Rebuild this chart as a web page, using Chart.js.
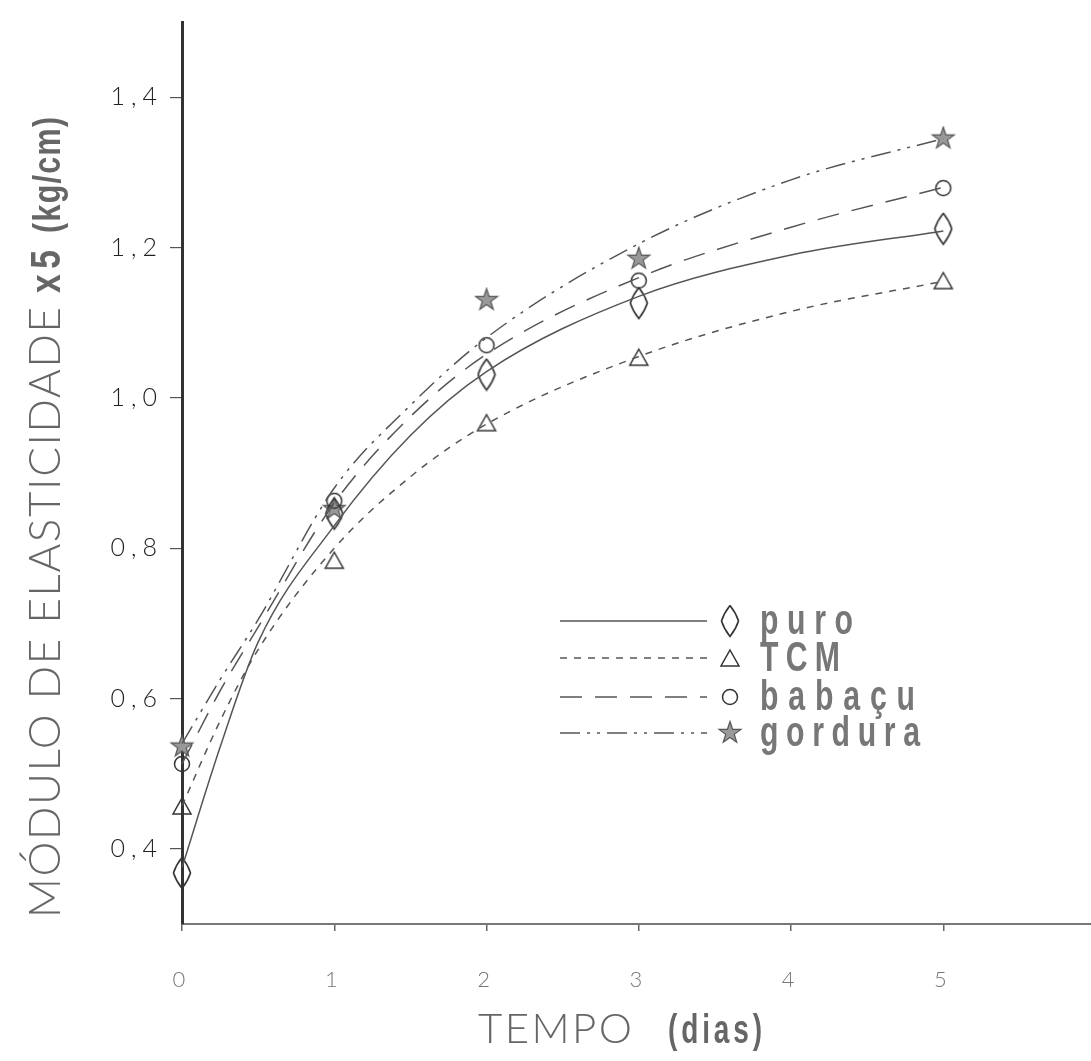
<!DOCTYPE html>
<html>
<head>
<meta charset="utf-8">
<script src="https://cdn.jsdelivr.net/npm/chart.js@4"></script>
<style>
  body { margin: 0; background: #fff; }
  #wrap { width: 1091px; height: 1061px; }
</style>
</head>
<body>
<div id="wrap"><canvas id="chart"></canvas></div>
<script>
// measured points (days 0,1,2,3,5)
const days = [0, 1, 2, 3, 5];
const puro = [0.368, 0.846, 1.031, 1.126, 1.225];
const tcm = [0.457, 0.784, 0.967, 1.054, 1.156];
const babacu = [0.513, 0.863, 1.070, 1.156, 1.279];
const gordura = [0.536, 0.852, 1.130, 1.185, 1.345];

// fitted curves
const curveDays = [0, 0.25, 0.5, 1, 1.5, 2, 3, 4, 5];
const puroCurve = [0.375, 0.535, 0.675, 0.83, 0.95, 1.035, 1.135, 1.19, 1.222];
const tcmCurve = [0.457, 0.57, 0.665, 0.80, 0.895, 0.965, 1.055, 1.115, 1.155];
const babacuCurve = [0.513, 0.61, 0.695, 0.86, 0.975, 1.058, 1.16, 1.227, 1.28];
const gorduraCurve = [0.54, 0.625, 0.705, 0.88, 0.99, 1.08, 1.205, 1.29, 1.345];

const seriesNames = ["puro", "TCM", "babaçu", "gordura"];
const yTicks = [0.4, 0.6, 0.8, 1.0, 1.2, 1.4];
const xTicks = [0, 1, 2, 3, 4, 5];

const lineColor = "#555";

// marker images
function makeDiamond() {
  const c = document.createElement("canvas");
  c.width = 20; c.height = 34;
  const g = c.getContext("2d");
  g.strokeStyle = "#333"; g.lineWidth = 1.6;
  g.beginPath();
  g.moveTo(10, 1.5); g.quadraticCurveTo(16, 9, 18.5, 17);
  g.quadraticCurveTo(16, 25, 10, 32.5); g.quadraticCurveTo(4, 25, 1.5, 17);
  g.quadraticCurveTo(4, 9, 10, 1.5);
  g.stroke();
  return c;
}
function makeStar() {
  const c = document.createElement("canvas");
  c.width = 26; c.height = 26;
  const g = c.getContext("2d");
  g.fillStyle = "#999"; g.strokeStyle = "#555"; g.lineWidth = 1.2;
  g.beginPath();
  for (let i = 0; i < 10; i++) {
    const r = i % 2 ? 4.5 : 11.5;
    const a = -Math.PI / 2 + i * Math.PI / 5;
    const px = 13 + r * Math.cos(a), py = 13 + r * Math.sin(a);
    i ? g.lineTo(px, py) : g.moveTo(px, py);
  }
  g.closePath(); g.fill(); g.stroke();
  return c;
}
function makeTriangle() {
  const c = document.createElement("canvas");
  c.width = 22; c.height = 20;
  const g = c.getContext("2d");
  g.strokeStyle = "#333"; g.lineWidth = 1.5;
  g.beginPath(); g.moveTo(11, 2); g.lineTo(20, 18); g.lineTo(2, 18); g.closePath();
  g.stroke();
  return c;
}
function makeCircle() {
  const c = document.createElement("canvas");
  c.width = 20; c.height = 20;
  const g = c.getContext("2d");
  g.strokeStyle = "#333"; g.lineWidth = 1.5;
  g.beginPath(); g.arc(10, 10, 7.5, 0, Math.PI * 2); g.stroke();
  return c;
}
const markers = [makeDiamond(), makeTriangle(), makeCircle(), makeStar()];
const dashes = [[], [7, 7], [22, 13], [20, 7, 3, 7, 3, 7]];

function pts(xs, ys) { return xs.map((x, i) => ({ x: x, y: ys[i] })); }

const curveSets = [puroCurve, tcmCurve, babacuCurve, gorduraCurve].map((d, i) => ({
  label: seriesNames[i] + " curva",
  data: pts(curveDays, d),
  showLine: true,
  borderColor: lineColor,
  borderWidth: 1.5,
  borderDash: dashes[i],
  pointRadius: 0,
  cubicInterpolationMode: "monotone",
  clip: false
}));
const pointSets = [puro, tcm, babacu, gordura].map((d, i) => ({
  label: seriesNames[i],
  data: pts(days, d),
  showLine: false,
  pointStyle: markers[i],
  pointRadius: 10,
  clip: false
}));

// draws text stretched to a given width (condensed + letter spaced)
function drawFitted(ctx, text, x, y, font, width, squeeze) {
  ctx.save();
  ctx.font = font;
  ctx.letterSpacing = "0px";
  const w = ctx.measureText(text).width;
  const sp = (width / squeeze - w) / Math.max(1, text.length - 1);
  ctx.letterSpacing = sp + "px";
  ctx.translate(x, y);
  ctx.scale(squeeze, 1);
  ctx.textAlign = "left";
  ctx.textBaseline = "alphabetic";
  ctx.fillText(text, 0, 0);
  ctx.restore();
}

const boldFont = '"Liberation Sans Narrow", "Liberation Sans", sans-serif';

const decor = {
  id: "decor",
  beforeDraw(chart) {
    chart.ctx.letterSpacing = "6px";
  },
  afterDraw(chart) {
    const ctx = chart.ctx;
    ctx.save();
    ctx.letterSpacing = "0px";

    // y axis title
    ctx.save();
    ctx.translate(60, 918);
    ctx.rotate(-Math.PI / 2);
    ctx.fillStyle = "#666";
    drawFitted(ctx, "MÓDULO DE ELASTICIDADE", 0, 0, '300 44px "Lato"', 611, 1);
    drawFitted(ctx, "x5", 625, 0, "bold 42px " + boldFont, 43, 0.8);
    drawFitted(ctx, "(kg/cm)", 685, 0, "bold 38px " + boldFont, 116, 0.8);
    ctx.restore();

    // x axis title
    ctx.fillStyle = "#666";
    drawFitted(ctx, "TEMPO", 478, 1043, '300 42px "Lato"', 154, 1);
    drawFitted(ctx, "(dias)", 668, 1043, "bold 40px " + boldFont, 94, 0.7);

    // legend
    const rows = [621, 658, 697, 733];
    const tw = [93, 80, 155, 160];
    chart.data.datasets.slice(0, 4).forEach((ds, i) => {
      const y = rows[i];
      ctx.save();
      ctx.strokeStyle = lineColor;
      ctx.lineWidth = 1.5;
      ctx.setLineDash(ds.borderDash);
      ctx.beginPath(); ctx.moveTo(560, y); ctx.lineTo(707, y); ctx.stroke();
      ctx.restore();
      const m = markers[i];
      ctx.drawImage(m, 730 - m.width / 2, y - m.height / 2);
      ctx.fillStyle = "#777";
      drawFitted(ctx, seriesNames[i], 760, y + 13, "bold 42px " + boldFont, tw[i], 0.72);
    });
    ctx.restore();
  }
};

new Chart(document.getElementById("chart"), {
  type: "scatter",
  data: { datasets: curveSets.concat(pointSets) },
  options: {
    responsive: true,
    maintainAspectRatio: false,
    animation: false,
    layout: { autoPadding: false, padding: { top: 14, right: 0, left: 0, bottom: 0 } },
    plugins: { legend: { display: false }, tooltip: { enabled: false }, title: { display: false } },
    scales: {
      x: {
        type: "linear",
        min: 0,
        max: 5.97,
        afterFit: s => { s.height = 137; },
        afterBuildTicks: s => { s.ticks = xTicks.map(v => ({ value: v })); },
        grid: { display: true, drawOnChartArea: false, drawTicks: true, tickLength: 7, color: "#666", lineWidth: 1.5 },
        border: { display: true, color: "#777", width: 2 },
        ticks: {
          color: "#777",
          padding: 36,
          font: { family: "Lato", weight: 300, size: 22 },
          callback: v => String(v)
        }
      },
      y: {
        type: "linear",
        min: 0.3,
        max: 1.5,
        afterFit: s => { s.width = 182; },
        afterBuildTicks: s => { s.ticks = yTicks.map(v => ({ value: v })); },
        grid: { display: true, drawOnChartArea: false, drawTicks: true, tickLength: 12, color: "#555", lineWidth: 1.2 },
        border: { display: true, color: "#333", width: 3 },
        ticks: {
          color: "#222",
          padding: 7,
          font: { family: "Lato", weight: 300, size: 25 },
          callback: v => v.toFixed(1).replace(".", ",")
        }
      }
    }
  },
  plugins: [decor]
});
</script>
</body>
</html>
